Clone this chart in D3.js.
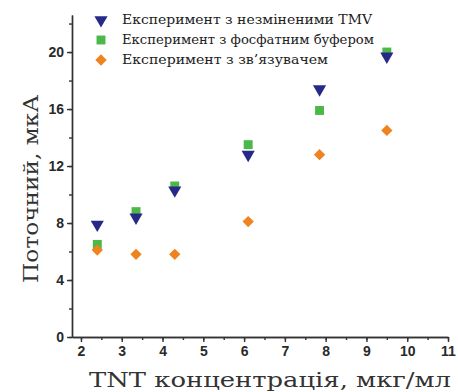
<!DOCTYPE html>
<html>
<head>
<meta charset="utf-8">
<script src="https://cdn.jsdelivr.net/npm/d3@7"></script>
<style>
  body { margin: 0; background: #fff; }
  .tick text { font-family: "Liberation Sans", Arial, sans-serif; font-weight: bold; font-size: 14px; fill: #2a2a2a; }
  .domain, .tick line { stroke: #333; stroke-width: 1.4; }
</style>
</head>
<body>
<svg width="458" height="392"></svg>
<script>
const conc = [2.4, 3.35, 4.3, 6.1, 7.85, 9.5];
const tmv = [7.9, 8.4, 10.3, 12.8, 17.4, 19.7];
const buffer = [6.5, 8.8, 10.6, 13.5, 15.9, 20.0];
const binder = [6.1, 5.8, 5.8, 8.1, 12.8, 14.5];
const seriesNames = [
  'Експеримент з незміненими TMV',
  'Експеримент з фосфатним буфером',
  'Експеримент з зв\u2019язувачем'
];
const xTicks = [2, 3, 4, 5, 6, 7, 8, 9, 10, 11];
const yTicks = [0, 4, 8, 12, 16, 20];

const svg = d3.select('svg');

const x = d3.scaleLinear().domain([1.78, 11]).range([72, 448]);
const y = d3.scaleLinear().domain([0, 22.6]).range([337, 15]);

// minor ticks first, majors on top
svg.append('g')
  .attr('transform', 'translate(0,337)')
  .call(d3.axisBottom(x).tickValues(d3.range(2, 11.01, 0.5)).tickSize(3).tickFormat('').tickSizeOuter(0));
svg.append('g')
  .attr('transform', 'translate(72,0)')
  .call(d3.axisLeft(y).tickValues(d3.range(0, 22.1, 2)).tickSize(3).tickFormat('').tickSizeOuter(0));

svg.append('g')
  .attr('transform', 'translate(0,337)')
  .call(d3.axisBottom(x).tickValues(xTicks).tickSize(5).tickPadding(4).tickSizeOuter(0));
svg.append('g')
  .attr('transform', 'translate(72,0)')
  .call(d3.axisLeft(y).tickValues(yTicks).tickSize(5).tickPadding(3).tickSizeOuter(0));

const series = [
  { name: seriesNames[1], values: buffer, shape: d3.symbolSquare, size: 80, color: '#4cb848', rot: 0 },
  { name: seriesNames[2], values: binder, shape: d3.symbolSquare, size: 64, color: '#ef8320', rot: 45 },
  { name: seriesNames[0], values: tmv, shape: d3.symbolTriangle, size: 75, color: '#262a86', rot: 180 }
];

series.forEach(s => {
  svg.append('g').selectAll('path')
    .data(s.values)
    .enter()
      .append('path')
      .attr('d', d3.symbol(s.shape, s.size))
      .attr('fill', s.color)
      .attr('transform', (d, i) => `translate(${x(conc[i])},${y(d)}) rotate(${s.rot})`);
});

// legend
const legendOrder = [series[2], series[0], series[1]];
const legendWidths = [250, 252, 206];
legendOrder.forEach((s, i) => {
  const ly = 20 + i * 20;
  svg.append('path')
    .attr('d', d3.symbol(s.shape, s.size))
    .attr('fill', s.color)
    .attr('transform', `translate(101,${ly}) rotate(${s.rot})`);
  svg.append('text')
    .attr('x', 122)
    .attr('y', ly + 4)
    .attr('font-family', '"DejaVu Serif", serif')
    .attr('font-size', 12.5)
    .attr('fill', '#222')
    .attr('textLength', legendWidths[i])
    .attr('lengthAdjust', 'spacingAndGlyphs')
    .text(s.name);
});

svg.append('text')
  .attr('transform', 'translate(38,189) rotate(-90)')
  .attr('text-anchor', 'middle')
  .attr('font-family', '"DejaVu Serif", serif')
  .attr('font-size', 21)
  .attr('fill', '#333')
  .attr('textLength', 188)
  .attr('lengthAdjust', 'spacingAndGlyphs')
  .text('Поточний, мкА');

svg.append('text')
  .attr('x', 270)
  .attr('y', 387)
  .attr('text-anchor', 'middle')
  .attr('font-family', '"DejaVu Serif", serif')
  .attr('font-size', 21)
  .attr('fill', '#333')
  .attr('textLength', 362)
  .attr('lengthAdjust', 'spacingAndGlyphs')
  .text('TNT концентрація, мкг/мл');
</script>
</body>
</html>
